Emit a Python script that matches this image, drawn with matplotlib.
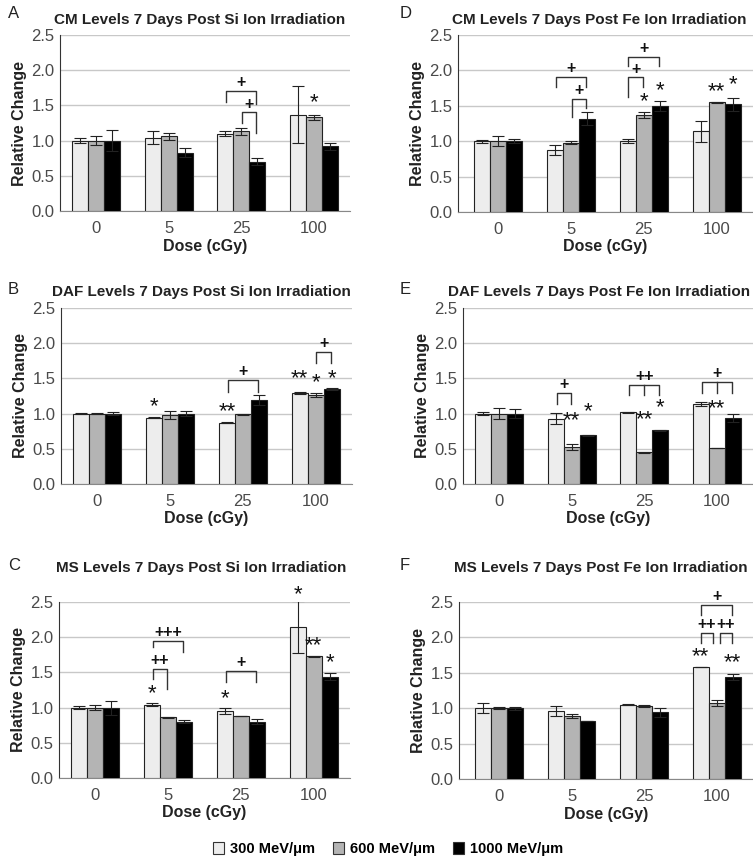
import numpy as np
import matplotlib.pyplot as plt
from matplotlib.patches import Patch

plt.rcParams['font.family'] = ['Liberation Sans', 'DejaVu Sans']

doses = ['0', '5', '25', '100']
series = ['300 MeV/\u03bcm', '600 MeV/\u03bcm', '1000 MeV/\u03bcm']
colors = ['#ededed', '#b4b4b4', '#000000']

# rows = series (300, 600, 1000), columns = doses
cm_si = [[1.00, 1.04, 1.10, 1.37], [1.00, 1.06, 1.13, 1.33], [1.00, 0.83, 0.70, 0.92]]
cm_si_err = [[0.03, 0.09, 0.04, 0.41], [0.06, 0.05, 0.05, 0.04], [0.15, 0.06, 0.05, 0.05]]
cm_fe = [[1.00, 0.88, 1.00, 1.14], [1.00, 0.98, 1.37, 1.55], [1.00, 1.32, 1.50, 1.52]]
cm_fe_err = [[0.02, 0.07, 0.03, 0.15], [0.07, 0.02, 0.04, 0.01], [0.03, 0.09, 0.07, 0.09]]
daf_si = [[1.00, 0.94, 0.87, 1.29], [1.00, 0.98, 0.99, 1.26], [1.00, 1.00, 1.19, 1.35]]
daf_si_err = [[0.01, 0.005, 0.005, 0.01], [0.01, 0.05, 0.01, 0.03], [0.02, 0.03, 0.07, 0.01]]
daf_fe = [[1.00, 0.93, 1.02, 1.14], [1.00, 0.53, 0.45, 0.51], [1.00, 0.69, 0.76, 0.94]]
daf_fe_err = [[0.02, 0.08, 0.005, 0.03], [0.08, 0.04, 0.005, 0.005], [0.06, 0.005, 0.005, 0.06]]
ms_si = [[1.00, 1.04, 0.95, 2.14], [1.00, 0.86, 0.88, 1.73], [1.00, 0.80, 0.80, 1.44]]
ms_si_err = [[0.02, 0.02, 0.04, 0.37], [0.04, 0.01, 0.005, 0.005], [0.10, 0.02, 0.04, 0.05]]
ms_fe = [[1.00, 0.96, 1.05, 1.58], [1.00, 0.89, 1.03, 1.07], [1.00, 0.82, 0.94, 1.44]]
ms_fe_err = [[0.07, 0.07, 0.005, 0.005], [0.01, 0.03, 0.01, 0.04], [0.02, 0.005, 0.06, 0.04]]

# significance marks: (dose index, series index, text, y of glyph centre)
cm_si_stars = [(3, 1, '*', 1.60)]
cm_fe_stars = [(2, 1, '*', 1.63), (2, 2, '*', 1.78), (3, 1, '**', 1.76), (3, 2, '*', 1.87)]
daf_si_stars = [(1, 0, '*', 1.17), (2, 0, '**', 1.10), (3, 0, '**', 1.57), (3, 1, '*', 1.50), (3, 2, '*', 1.57)]
daf_fe_stars = [(1, 1, '**', 0.96), (1, 2, '*', 1.09), (2, 1, '**', 0.98), (2, 2, '*', 1.15), (3, 1, '**', 1.13)]
ms_si_stars = [(1, 0, '*', 1.27), (2, 0, '*', 1.20), (3, 0, '*', 2.67), (3, 1, '**', 1.94), (3, 2, '*', 1.70)]
ms_fe_stars = [(3, 0, '**', 1.80), (3, 2, '**', 1.71)]

# brackets: (dose, left series, right series, top, left foot, right foot, text, middle tick)
cm_si_brk = [(2, 0, 2, 1.70, 1.55, 1.52, '+', False), (2, 1, 2, 1.40, 1.25, 1.11, '+', False)]
cm_fe_brk = [(1, 0, 2, 1.91, 1.76, 1.76, '+', False), (1, 1, 2, 1.60, 1.34, 1.47, '+', False),
             (2, 0, 2, 2.19, 2.06, 2.06, '+', False), (2, 0, 1, 1.90, 1.62, 1.76, '+', False)]
daf_si_brk = [(2, 0, 2, 1.48, 1.31, 1.31, '+', False), (3, 1, 2, 1.87, 1.72, 1.72, '+', False)]
daf_fe_brk = [(1, 0, 1, 1.29, 1.13, 1.13, '+', False), (2, 0, 2, 1.41, 1.27, 1.27, '++', True),
              (3, 0, 2, 1.45, 1.29, 1.29, '+', True)]
ms_si_brk = [(1, 0, 1, 1.55, 1.40, 1.27, '++', False), (1, 0, 2, 1.95, 1.86, 1.79, '+++', False),
             (2, 0, 2, 1.52, 1.37, 1.37, '+', False)]
ms_fe_brk = [(3, 0, 0.8, 2.06, 1.92, 1.92, '++', False), (3, 1.15, 2, 2.06, 1.92, 1.92, '++', False),
             (3, 0, 2, 2.46, 2.32, 2.32, '+', False)]

width = 0.22
star_fs = 16
plus_fs = 11.5


def draw_panel(fig, rect, xlim, title, title_xy, letter, letter_xy, vals, errs, stars, brackets):
    ax = fig.add_axes(rect)
    x = np.arange(len(doses))
    for i in range(3):
        ax.bar(x + (i - 1) * width, vals[i], width, color=colors[i], edgecolor='#222222',
               linewidth=0.8, zorder=3)
        ax.errorbar(x + (i - 1) * width, vals[i], yerr=errs[i], fmt='none', ecolor='#222222',
                    elinewidth=0.8, capsize=4, capthick=0.8, zorder=4)
    for g, s, txt, y in stars:
        ax.annotate(txt, (g + (s - 1) * width, y), xytext=(0, -0.46 * star_fs),
                    textcoords='offset points', ha='center', va='baseline', fontsize=star_fs,
                    color='#111111', annotation_clip=False)
    for g, s1, s2, top, f1, f2, txt, mid in brackets:
        x1 = g + (s1 - 1) * width + 0.01
        x2 = g + (s2 - 1) * width - 0.01
        ax.plot([x1, x1, x2, x2], [f1, top, top, f2], color='#333333', lw=1, zorder=5)
        if mid:
            ax.plot([g, g], [top, f1], color='#333333', lw=1, zorder=5)
        ax.annotate(txt, ((x1 + x2) / 2, top + 0.13), xytext=(0, -0.33 * plus_fs),
                    textcoords='offset points', ha='center', va='baseline', fontsize=plus_fs,
                    fontweight='bold', color='#111111', annotation_clip=False)
    ax.set_ylim(0, 2.5)
    ax.set_xlim(*xlim)
    ax.set_yticks(np.arange(0, 2.51, 0.5))
    ax.set_yticklabels(['%.1f' % v for v in np.arange(0, 2.51, 0.5)])
    ax.set_xticks(x)
    ax.set_xticklabels(doses)
    ax.tick_params(length=0, labelsize=12, labelcolor='#4a4a4a')
    ax.tick_params(axis='x', pad=7)
    ax.tick_params(axis='y', pad=4)
    ax.grid(axis='y', color='#c8c8c8', lw=1, zorder=0)
    for sp in ['top', 'right']:
        ax.spines[sp].set_visible(False)
    ax.spines['left'].set_color('#333333')
    ax.spines['bottom'].set_color('#888888')
    ax.set_ylabel('Relative Change', fontsize=11.5, fontweight='bold', color='#222222', labelpad=3)
    ax.set_xlabel('Dose (cGy)', fontsize=11.5, fontweight='bold', color='#222222', labelpad=2)
    fig.text(title_xy[0], title_xy[1], title, ha='center', va='center', fontsize=11,
             fontweight='bold', color='#222222')
    fig.text(letter_xy[0], letter_xy[1], letter, ha='left', va='center', fontsize=12, color='#222222')
    return ax


W, H = 753, 857
fig = plt.figure(figsize=(W / 100, H / 100), dpi=100)


def r(l, t, rgt, b):
    return [l / W, 1 - b / H, (rgt - l) / W, (b - t) / H]


draw_panel(fig, r(60, 35, 350, 211), (-0.5, 3.5), 'CM Levels 7 Days Post Si Ion Irradiation',
           (200 / W, 1 - 20 / H), 'A', (8 / W, 1 - 13 / H), cm_si, cm_si_err, cm_si_stars, cm_si_brk)
draw_panel(fig, r(458, 35, 753, 212), (-0.55, 3.5), 'CM Levels 7 Days Post Fe Ion Irradiation',
           (599 / W, 1 - 20 / H), 'D', (400 / W, 1 - 13 / H), cm_fe, cm_fe_err, cm_fe_stars, cm_fe_brk)
draw_panel(fig, r(61, 308, 352, 484), (-0.5, 3.5), 'DAF Levels 7 Days Post Si Ion Irradiation',
           (201 / W, 1 - 292 / H), 'B', (8 / W, 1 - 289 / H), daf_si, daf_si_err, daf_si_stars, daf_si_brk)
draw_panel(fig, r(463, 308, 753, 484), (-0.5, 3.5), 'DAF Levels 7 Days Post Fe Ion Irradiation',
           (599 / W, 1 - 292 / H), 'E', (400 / W, 1 - 289 / H), daf_fe, daf_fe_err, daf_fe_stars, daf_fe_brk)
draw_panel(fig, r(59, 602, 350, 778), (-0.5, 3.5), 'MS Levels 7 Days Post Si Ion Irradiation',
           (201 / W, 1 - 568 / H), 'C', (8 / W, 1 - 566 / H), ms_si, ms_si_err, ms_si_stars, ms_si_brk)
draw_panel(fig, r(459, 602, 753, 779), (-0.55, 3.5), 'MS Levels 7 Days Post Fe Ion Irradiation',
           (601 / W, 1 - 568 / H), 'F', (400 / W, 1 - 566 / H), ms_fe, ms_fe_err, ms_fe_stars, ms_fe_brk)

handles = [Patch(facecolor=colors[i], edgecolor='#333333', linewidth=0.8) for i in range(3)]
fig.legend(handles, series, loc='center', bbox_to_anchor=(388 / W, 1 - 849 / H), ncol=3,
           frameon=False, handlelength=0.8, handleheight=0.8, handletextpad=0.4, columnspacing=1.2,
           prop={'weight': 'bold', 'size': 10.5})

fig.savefig('out.png', dpi=100)
